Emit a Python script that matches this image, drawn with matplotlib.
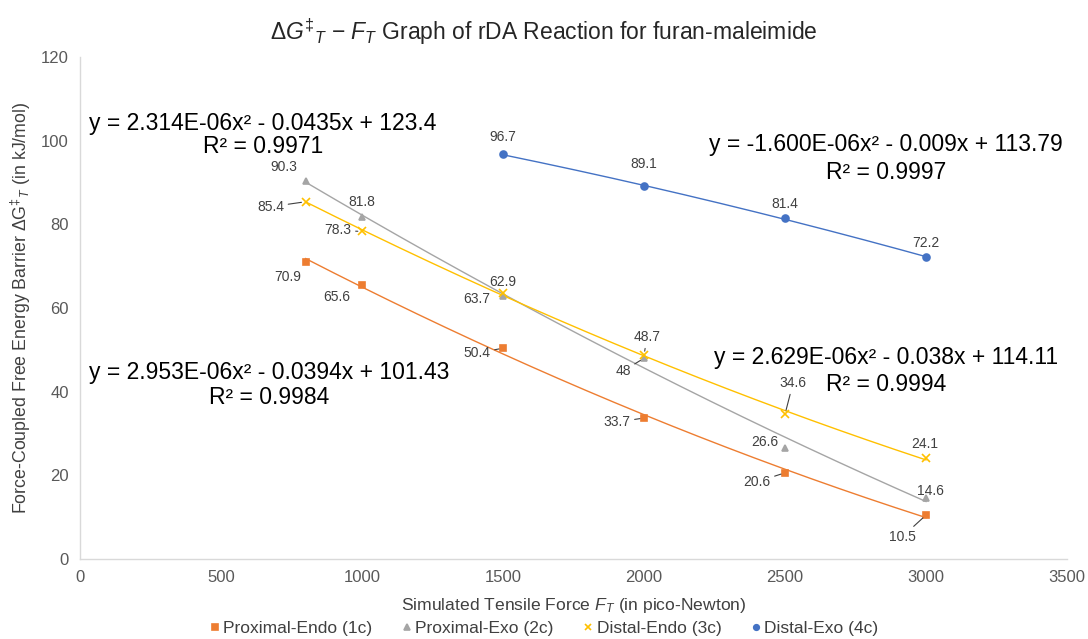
import numpy as np
import matplotlib
matplotlib.use("Agg")
import matplotlib.pyplot as plt

plt.rcParams['font.family'] = ['Liberation Sans', 'DejaVu Sans']
plt.rcParams['mathtext.fontset'] = 'custom'
plt.rcParams['mathtext.rm'] = 'Liberation Sans'
plt.rcParams['mathtext.it'] = 'Liberation Sans:italic'

# data (force in pN, barrier in kJ/mol)
x_main = [800, 1000, 1500, 2000, 2500, 3000]
prox_endo = [70.9, 65.6, 50.4, 33.7, 20.6, 10.5]
prox_exo = [90.3, 81.8, 62.9, 48, 26.6, 14.6]
dist_endo = [85.4, 78.3, 63.7, 48.7, 34.6, 24.1]
x_dist_exo = [1500, 2000, 2500, 3000]
dist_exo = [96.7, 89.1, 81.4, 72.2]

series_names = ['Proximal-Endo (1c)', 'Proximal-Exo (2c)', 'Distal-Endo (3c)', 'Distal-Exo (4c)']
eq_texts = [
    ('y = 2.953E-06x² - 0.0394x + 101.43', 'R² = 0.9984'),
    ('y = 2.314E-06x² - 0.0435x + 123.4', 'R² = 0.9971'),
    ('y = 2.629E-06x² - 0.038x + 114.11', 'R² = 0.9994'),
    ('y = -1.600E-06x² - 0.009x + 113.79', 'R² = 0.9997'),
]

colors = ['#ED7D31', '#A5A5A5', '#FFC000', '#4472C4']
markers = ['s', '^', 'x', 'o']
msizes = [5, 5, 6, 5]

# label offsets in pixels (dx, dy) and whether a leader line is drawn
label_offsets = [
    [(-18, -15), (-25, -12), (-26, -5), (-27, -4), (-28, -9), (-24, -22)],
    [(-22, 14), (0, 15), (0, 14), (-21, -13), (-20, 6), (4, 7)],
    [(-35, -5), (-24, 1), (-26, -6), (3, 18), (8, 31), (-1, 14)],
    [(0, 17), (0, 22), (0, 14), (0, 14)],
]
leaders = [
    [False, False, True, True, True, True],
    [False, False, False, True, False, False],
    [True, True, False, True, True, False],
    [False, False, False, False],
]
# equation label centres (data coords): equation line, R² line
eq_pos = [
    ((670, 44.7), (670, 38.7)),
    ((649, 104.2), (649, 98.5)),
    ((2860, 48.1), (2860, 41.6)),
    ((2858, 99.0), (2858, 92.5)),
]

xs = [x_main, x_main, x_main, x_dist_exo]
ys = [prox_endo, prox_exo, dist_endo, dist_exo]

fig = plt.figure(figsize=(10.88, 6.39), dpi=100)
ax = fig.add_axes([0.0735, 0.1252, 0.9072, 0.7856])

handles = []
for i in range(4):
    x = np.array(xs[i], dtype=float)
    y = np.array(ys[i], dtype=float)
    coef = np.polyfit(x, y, 2)
    xf = np.linspace(x.min(), x.max(), 200)
    ax.plot(xf, np.polyval(coef, xf), color=colors[i], lw=1.0, zorder=2)
    h, = ax.plot(x, y, linestyle='none', marker=markers[i], color=colors[i],
                 markersize=msizes[i], markeredgewidth=1.2, zorder=3, label=series_names[i])
    handles.append(h)
    for j, (xv, yv) in enumerate(zip(x, y)):
        txt = f'{yv:g}'
        ap = None
        if leaders[i][j]:
            ap = dict(arrowstyle='-', color='#404040', lw=0.8, shrinkA=1, shrinkB=3)
        ax.annotate(txt, (xv, yv), xytext=label_offsets[i][j], textcoords='offset pixels',
                    ha='center', va='center', fontsize=10, color='#404040',
                    arrowprops=ap, zorder=4)
    (p1, p2) = eq_pos[i]
    ax.text(p1[0], p1[1], eq_texts[i][0], fontsize=16.5, color='#000000', ha='center', va='center')
    ax.text(p2[0], p2[1], eq_texts[i][1], fontsize=16.5, color='#000000', ha='center', va='center')

ax.set_xlim(0, 3500)
ax.set_ylim(0, 120)
ax.set_xticks(np.arange(0, 3501, 500))
ax.set_yticks(np.arange(0, 121, 20))
ax.tick_params(length=0, labelsize=12, labelcolor='#595959', pad=8)
for s in ['top', 'right']:
    ax.spines[s].set_visible(False)
for s in ['left', 'bottom']:
    ax.spines[s].set_color('#D9D9D9')
    ax.spines[s].set_linewidth(1)

ax.set_xlabel(r'Simulated Tensile Force $\mathit{F}_{\mathit{T}}$ (in pico-Newton)',
              fontsize=12.6, color='#404040', labelpad=8)
ax.set_ylabel(r'Force-Coupled Free Energy Barrier $\Delta\mathrm{G}^{\ddag}{}_{\mathit{T}}$ (in kJ/mol)',
              fontsize=12.8, color='#404040', labelpad=6)
fig.suptitle(r'$\Delta\mathit{G}^{\ddag}{}_{\mathit{T}}$ $-$ $\mathit{F}_{\mathit{T}}$ Graph of rDA Reaction for furan-maleimide',
             fontsize=16.5, color='#262626', y=0.975)

fig.legend(handles=handles, loc='center', bbox_to_anchor=(0.5, 0.017), ncol=4,
           frameon=False, fontsize=12.5, labelcolor='#404040', handlelength=0.6,
           handletextpad=0.2, columnspacing=1.67, markerscale=0.8)

fig.savefig('out.png', dpi=100)
